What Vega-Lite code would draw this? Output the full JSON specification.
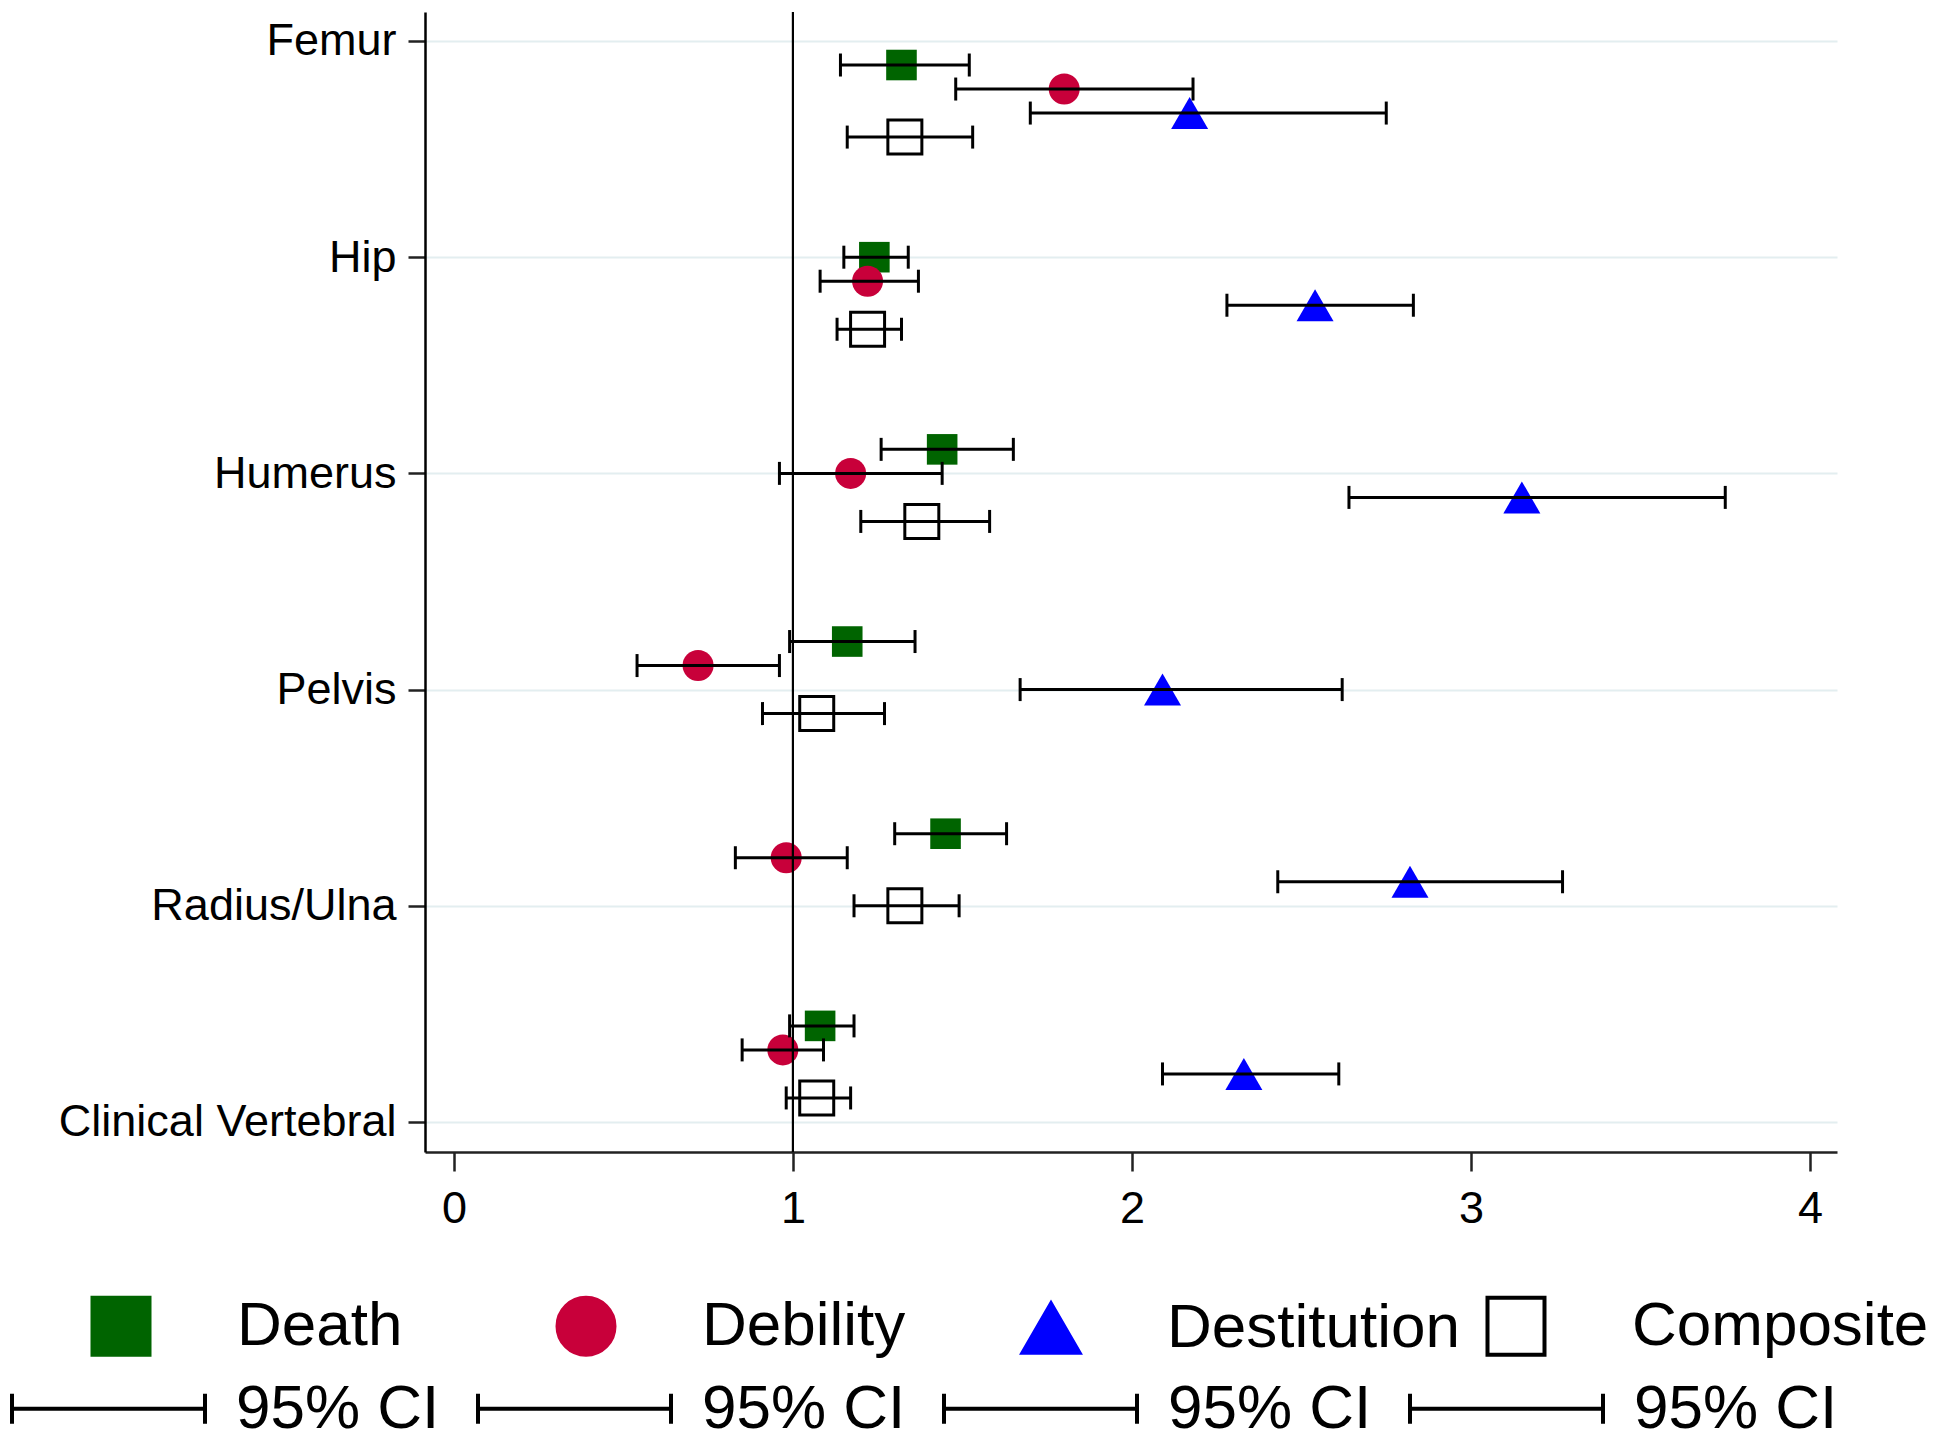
{
  "$schema": "https://vega.github.io/schema/vega-lite/v6.json",
  "width": 1412,
  "height": 1140,
  "autosize": {"type": "none"},
  "padding": {"left": 425, "top": 12, "right": 113, "bottom": 292},
  "background": "white",
  "config": {
    "view": {"stroke": null},
    "font": "Liberation Sans",
    "axis": {"labelFont": "Liberation Sans", "labelColor": "black", "labelLimit": 600},
    "legend": {"labelFont": "Liberation Sans", "labelColor": "black", "labelLimit": 600}
  },
  "data": {
    "values": [
      {"Site": "Femur", "Outcome": "Death", "ci": "Death 95% CI", "row": 0, "est": 1.32, "lo": 1.14, "hi": 1.52},
      {"Site": "Femur", "Outcome": "Debility", "ci": "Debility 95% CI", "row": 1, "est": 1.80, "lo": 1.48, "hi": 2.18},
      {"Site": "Femur", "Outcome": "Destitution", "ci": "Destitution 95% CI", "row": 2, "est": 2.17, "lo": 1.70, "hi": 2.75},
      {"Site": "Femur", "Outcome": "Composite", "ci": "Composite 95% CI", "row": 3, "est": 1.33, "lo": 1.16, "hi": 1.53},
      {"Site": "Hip", "Outcome": "Death", "ci": "Death 95% CI", "row": 8, "est": 1.24, "lo": 1.15, "hi": 1.34},
      {"Site": "Hip", "Outcome": "Debility", "ci": "Debility 95% CI", "row": 9, "est": 1.22, "lo": 1.08, "hi": 1.37},
      {"Site": "Hip", "Outcome": "Destitution", "ci": "Destitution 95% CI", "row": 10, "est": 2.54, "lo": 2.28, "hi": 2.83},
      {"Site": "Hip", "Outcome": "Composite", "ci": "Composite 95% CI", "row": 11, "est": 1.22, "lo": 1.13, "hi": 1.32},
      {"Site": "Humerus", "Outcome": "Death", "ci": "Death 95% CI", "row": 16, "est": 1.44, "lo": 1.26, "hi": 1.65},
      {"Site": "Humerus", "Outcome": "Debility", "ci": "Debility 95% CI", "row": 17, "est": 1.17, "lo": 0.96, "hi": 1.44},
      {"Site": "Humerus", "Outcome": "Destitution", "ci": "Destitution 95% CI", "row": 18, "est": 3.15, "lo": 2.64, "hi": 3.75},
      {"Site": "Humerus", "Outcome": "Composite", "ci": "Composite 95% CI", "row": 19, "est": 1.38, "lo": 1.20, "hi": 1.58},
      {"Site": "Pelvis", "Outcome": "Death", "ci": "Death 95% CI", "row": 24, "est": 1.16, "lo": 0.99, "hi": 1.36},
      {"Site": "Pelvis", "Outcome": "Debility", "ci": "Debility 95% CI", "row": 25, "est": 0.72, "lo": 0.54, "hi": 0.96},
      {"Site": "Pelvis", "Outcome": "Destitution", "ci": "Destitution 95% CI", "row": 26, "est": 2.09, "lo": 1.67, "hi": 2.62},
      {"Site": "Pelvis", "Outcome": "Composite", "ci": "Composite 95% CI", "row": 27, "est": 1.07, "lo": 0.91, "hi": 1.27},
      {"Site": "Radius/Ulna", "Outcome": "Death", "ci": "Death 95% CI", "row": 32, "est": 1.45, "lo": 1.30, "hi": 1.63},
      {"Site": "Radius/Ulna", "Outcome": "Debility", "ci": "Debility 95% CI", "row": 33, "est": 0.98, "lo": 0.83, "hi": 1.16},
      {"Site": "Radius/Ulna", "Outcome": "Destitution", "ci": "Destitution 95% CI", "row": 34, "est": 2.82, "lo": 2.43, "hi": 3.27},
      {"Site": "Radius/Ulna", "Outcome": "Composite", "ci": "Composite 95% CI", "row": 35, "est": 1.33, "lo": 1.18, "hi": 1.49},
      {"Site": "Clinical Vertebral", "Outcome": "Death", "ci": "Death 95% CI", "row": 40, "est": 1.08, "lo": 0.99, "hi": 1.18},
      {"Site": "Clinical Vertebral", "Outcome": "Debility", "ci": "Debility 95% CI", "row": 41, "est": 0.97, "lo": 0.85, "hi": 1.09},
      {"Site": "Clinical Vertebral", "Outcome": "Destitution", "ci": "Destitution 95% CI", "row": 42, "est": 2.33, "lo": 2.09, "hi": 2.61},
      {"Site": "Clinical Vertebral", "Outcome": "Composite", "ci": "Composite 95% CI", "row": 43, "est": 1.07, "lo": 0.98, "hi": 1.17}
    ]
  },
  "layer": [
    {
      "mark": {"type": "point", "filled": true, "opacity": 1},
      "encoding": {
        "x": {
          "field": "est", "type": "quantitative", "title": null,
          "scale": {"domain": [-0.0855, 4.0796], "nice": false, "zero": false},
          "axis": {"values": [0, 1, 2, 3, 4], "format": "d", "grid": false, "tickSize": 19, "labelPadding": 15, "labelFontSize": 45, "domainColor": "#222222", "domainWidth": 2.5, "tickColor": "#222222", "tickWidth": 2.5, "title": null}
        },
        "y": {
          "field": "row", "type": "quantitative", "title": null,
          "scale": {"domain": [-2.207, 45.25], "reverse": true, "nice": false, "zero": false},
          "axis": {"values": [-1, 8, 17, 26, 35, 44], "labelExpr": "datum.value == -1 ? 'Femur' : datum.value == 8 ? 'Hip' : datum.value == 17 ? 'Humerus' : datum.value == 26 ? 'Pelvis' : datum.value == 35 ? 'Radius/Ulna' : 'Clinical Vertebral'", "grid": true, "gridColor": "#e3eef0", "gridWidth": 2, "tickSize": 17, "labelPadding": 12, "labelFontSize": 45, "domainColor": "black", "domainWidth": 2.5, "tickColor": "#222222", "tickWidth": 2.5, "title": null}
        },
        "shape": {
          "field": "Outcome", "type": "nominal",
          "scale": {"domain": ["Death", "Debility", "Destitution", "Composite"], "range": ["square", "circle", "triangle-up", "square"]},
          "legend": {"title": null, "orient": "none", "legendX": -335, "legendY": 1283, "direction": "horizontal", "columns": 4, "gridAlign": "all", "columnPadding": 15, "labelOffset": 85, "symbolSize": 3249, "symbolStrokeWidth": 4, "symbolOpacity": 1, "labelFontSize": 62, "labelLimit": 600, "padding": 0}
        },
        "fill": {
          "field": "Outcome", "type": "nominal",
          "scale": {"domain": ["Death", "Debility", "Destitution", "Composite"], "range": ["#006400", "#c8003a", "#0000ff", "white"]},
          "legend": {"title": null, "orient": "none", "legendX": -335, "legendY": 1283, "direction": "horizontal", "columns": 4, "gridAlign": "all", "columnPadding": 15, "labelOffset": 85, "symbolSize": 3249, "symbolStrokeWidth": 4, "symbolOpacity": 1, "labelFontSize": 62, "labelLimit": 600, "padding": 0}
        },
        "stroke": {
          "field": "Outcome", "type": "nominal",
          "scale": {"domain": ["Death", "Debility", "Destitution", "Composite"], "range": ["#006400", "#c8003a", "#0000ff", "black"]},
          "legend": {"title": null, "orient": "none", "legendX": -335, "legendY": 1283, "direction": "horizontal", "columns": 4, "gridAlign": "all", "columnPadding": 15, "labelOffset": 85, "symbolSize": 3249, "symbolStrokeWidth": 4, "symbolOpacity": 1, "labelFontSize": 62, "labelLimit": 600, "padding": 0}
        },
        "size": {
          "condition": [
            {"test": "datum.Outcome === 'Destitution'", "value": 1369},
            {"test": "datum.Outcome === 'Composite'", "value": 1156},
            {"test": "datum.Outcome === 'Debility'", "value": 961}
          ],
          "value": 936
        },
        "strokeWidth": {"condition": {"test": "datum.Outcome === 'Composite'", "value": 3}, "value": 0}
      }
    },
    {
      "mark": {"type": "rule", "color": "black", "strokeWidth": 2},
      "encoding": {"x": {"datum": 1, "type": "quantitative"}}
    },
    {
      "mark": {"type": "rule", "color": "black", "strokeWidth": 3},
      "encoding": {
        "x": {"field": "lo", "type": "quantitative", "title": null},
        "x2": {"field": "hi"},
        "y": {"field": "row", "type": "quantitative", "title": null},
        "strokeDash": {
          "field": "ci", "type": "nominal",
          "scale": {"range": [[1, 0], [1, 0], [1, 0], [1, 0]]},
          "legend": {"title": null, "orient": "none", "legendX": -415, "legendY": 1298, "direction": "horizontal", "columns": 4, "gridAlign": "each", "columnPadding": 30, "labelOffset": 29, "symbolType": "M-1,-0.155L-1,0.155M-1,0L1,0M1,-0.155L1,0.155", "symbolSize": 37249, "symbolStrokeWidth": 4, "symbolStrokeColor": "black", "symbolFillColor": "transparent", "symbolOpacity": 1, "labelExpr": "datum.index == 2 ? '95% CI\u00a0\u00a0\u00a0\u00a0' : '95% CI'", "labelFontSize": 62, "labelLimit": 600, "padding": 0}
        }
      }
    },
    {
      "mark": {"type": "tick", "orient": "vertical", "color": "black", "thickness": 3, "size": 23, "opacity": 1},
      "encoding": {
        "x": {"field": "lo", "type": "quantitative", "title": null},
        "y": {"field": "row", "type": "quantitative", "title": null}
      }
    },
    {
      "mark": {"type": "tick", "orient": "vertical", "color": "black", "thickness": 3, "size": 23, "opacity": 1},
      "encoding": {
        "x": {"field": "hi", "type": "quantitative", "title": null},
        "y": {"field": "row", "type": "quantitative", "title": null}
      }
    }
  ]
}
